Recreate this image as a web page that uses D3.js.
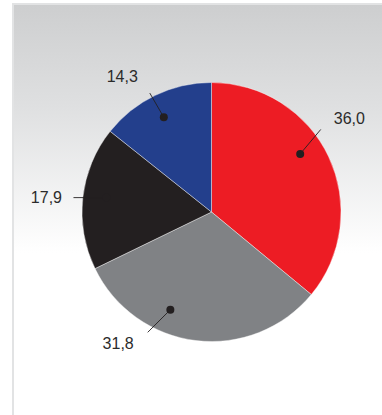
<!DOCTYPE html>
<html><head><meta charset="utf-8">
<script src="https://cdn.jsdelivr.net/npm/d3@7"></script>
<style>html,body{margin:0;padding:0;background:#fff;overflow:hidden;}svg{display:block;}</style>
</head><body>
<script>
const categories = ["A", "B", "C", "D"];
const values = [36.0, 31.8, 17.9, 14.3];
const labels = ["36,0", "31,8", "17,9", "14,3"];
const colors = ["#ed1c24", "#808285", "#231f20", "#233f8c"];

const W = 382, H = 415;
const svg = d3.select("body").append("svg").attr("width", W).attr("height", H);
const defs = svg.append("defs");
const g = defs.append("linearGradient").attr("id", "bg").attr("x1", 0).attr("y1", 0).attr("x2", 0).attr("y2", 1);
g.append("stop").attr("offset", "0%").attr("stop-color", "#cdcecf");
g.append("stop").attr("offset", "25%").attr("stop-color", "#dfe0e1");
g.append("stop").attr("offset", "60%").attr("stop-color", "#ffffff");
g.append("stop").attr("offset", "100%").attr("stop-color", "#ffffff");

svg.append("rect").attr("x", 13).attr("y", 4).attr("width", W + 20).attr("height", H)
  .attr("fill", "url(#bg)").attr("stroke", "#e2e3e4").attr("stroke-width", 2);

const cx = 211.5, cy = 212, R = 129.5;
const root = svg.append("g").attr("transform", `translate(${cx},${cy})`);
const pie = d3.pie().sort(null).value(d => d)(values);
const arc = d3.arc().innerRadius(0).outerRadius(R);
root.selectAll("path.slice").data(pie).join("path").attr("class", "slice")
  .attr("d", arc).attr("fill", (d, i) => colors[i])
  .attr("stroke", "#ffffff").attr("stroke-width", 0.4);

// label layout (drawing config)
const shift = [-8, 16, 1.5, -1];       // degrees offset of dot from slice mid-angle
const leadAng = [40, 225, 270, -30];   // leader direction (deg, clockwise from top)
const leadLen = [32, 32, 33, 28];
const rDot = 106;
const txt = [
  {dx: 13, dy: -5, anchor: "start"},
  {dx: -14, dy: 16.5, anchor: "end"},
  {dx: -11.5, dy: 5.5, anchor: "end"},
  {dx: -12, dy: -11.5, anchor: "end"}
];
const pol = (r, a) => [r * Math.sin(a), -r * Math.cos(a)];
pie.forEach((d, i) => {
  const mid = (d.startAngle + d.endAngle) / 2 + shift[i] * Math.PI / 180;
  const [dxp, dyp] = pol(rDot, mid);
  const [lx, ly] = pol(leadLen[i], leadAng[i] * Math.PI / 180);
  const ex = dxp + lx, ey = dyp + ly;
  root.append("line").attr("x1", dxp).attr("y1", dyp).attr("x2", ex).attr("y2", ey)
    .attr("stroke", "#231f20").attr("stroke-width", 0.9);
  root.append("circle").attr("cx", dxp).attr("cy", dyp).attr("r", 4).attr("fill", "#231f20");
  root.append("text").attr("x", ex + txt[i].dx).attr("y", ey + txt[i].dy)
    .attr("text-anchor", txt[i].anchor)
    .attr("font-family", "Liberation Sans, Arial, sans-serif").attr("font-size", 16)
    .attr("fill", "#2b2b2b").text(labels[i]);
});
</script>
</body></html>
